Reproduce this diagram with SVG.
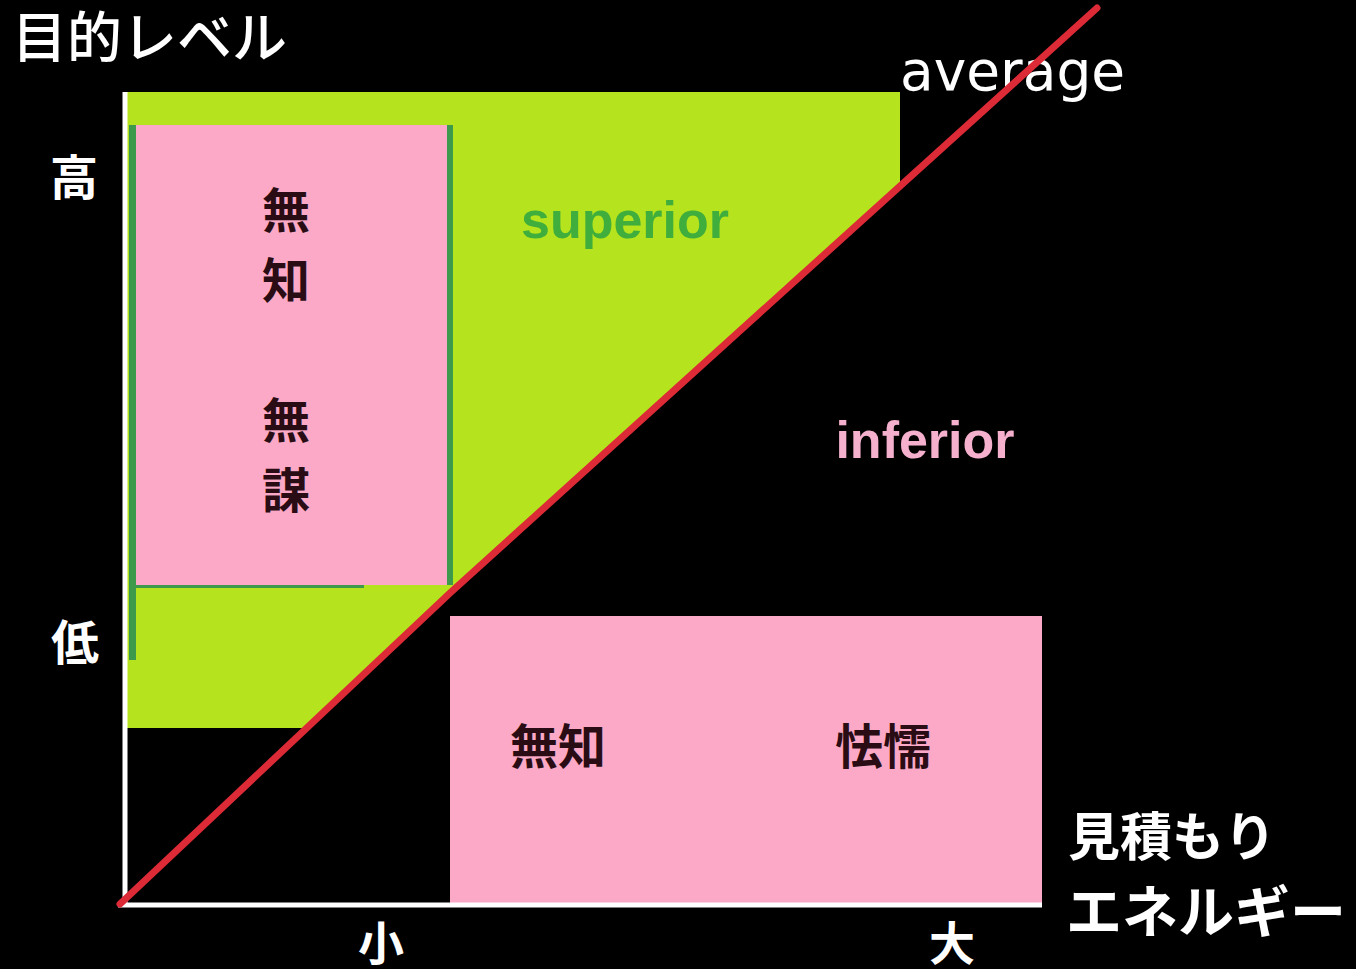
<svg xmlns="http://www.w3.org/2000/svg" width="1356" height="969" viewBox="0 0 1356 969">
<style>
.w{fill:#ffffff;font-family:"Noto Sans CJK JP",sans-serif;font-weight:bold}
.k{fill:#2a0c14;font-family:"Noto Sans CJK JP",sans-serif;font-weight:bold;font-size:48px;text-anchor:middle}
.axis{stroke:#ffffff;stroke-width:5;fill:none}
.pink{fill:#fba9c6}
.edge{fill:#3d9a4c}
</style>
<rect x="0" y="0" width="1356" height="969" fill="#000000"/>
<g id="superior-region">
<polygon points="127,92 900,92 900,184 450,592 303,728 127,728" fill="#b5e31d"/>
<text x="625" y="238" text-anchor="middle" font-family="Liberation Sans, Arial, sans-serif" font-weight="bold" font-size="52" fill="#3fae3c">superior</text>
</g>
<g id="mubo-box">
<rect class="edge" x="129" y="125" width="7" height="535"/>
<rect class="edge" x="447" y="125" width="6" height="460"/>
<rect class="edge" x="130" y="585" width="234" height="3"/>
<rect class="pink" x="136" y="125" width="311" height="460"/>
<text class="k" x="286" y="228">無</text>
<text class="k" x="286" y="298">知</text>
<text class="k" x="286" y="438">無</text>
<text class="k" x="286" y="508">謀</text>
</g>
<g id="kyoda-box">
<rect class="pink" x="450" y="616" width="592" height="288"/>
<text class="k" x="558" y="764">無知</text>
<text class="k" x="883" y="764">怯懦</text>
</g>
<g id="axes">
<line class="axis" x1="125" y1="92" x2="125" y2="907"/>
<line class="axis" x1="118" y1="905" x2="1042" y2="905"/>
<text x="12" y="57" font-family="Noto Sans CJK JP, sans-serif" font-weight="500" font-size="55" fill="#ffffff">目的レベル</text>
<text class="w" x="74" y="195" font-size="48" text-anchor="middle">高</text>
<text class="w" x="75" y="660" font-size="48" text-anchor="middle">低</text>
<text class="w" x="381" y="960" font-size="46" text-anchor="middle">小</text>
<text class="w" x="952" y="960" font-size="46" text-anchor="middle">大</text>
<text class="w" x="1068" y="856" font-size="52">見積もり</text>
<text class="w" x="1066" y="932" font-size="56">エネルギー</text>
</g>
<g id="inferior-region">
<text x="925" y="458" text-anchor="middle" font-family="Liberation Sans, Arial, sans-serif" font-weight="bold" font-size="52" fill="#f4b0cc">inferior</text>
</g>
<g id="average-text">
<text x="900" y="90" font-family="DejaVu Sans, sans-serif" font-size="55" fill="#ffffff">average</text>
</g>
<g id="connectors">
<path d="M120,904 L450,593 L1097,8" fill="none" stroke="#dc2a36" stroke-width="7" stroke-linecap="round" stroke-linejoin="round"/>
</g>
</svg>
